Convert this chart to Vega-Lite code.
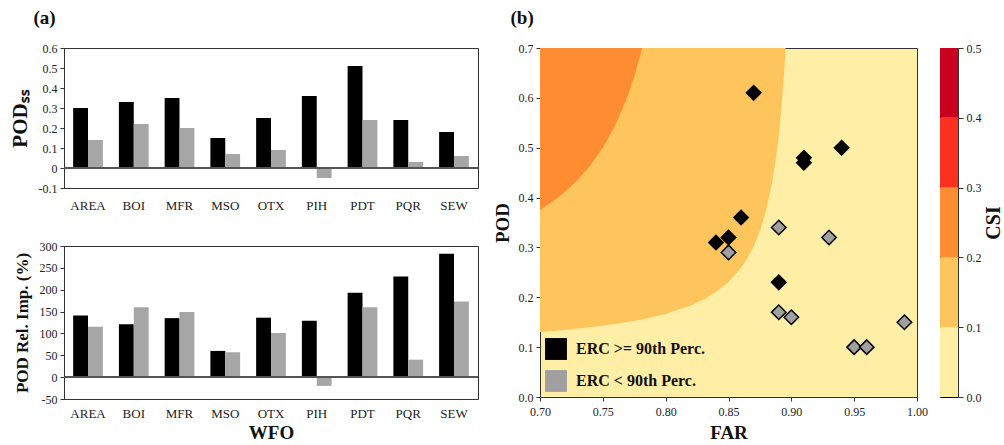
{
 "$schema": "https://vega.github.io/schema/vega-lite/v6.json",
 "background": "white",
 "padding": {"left": 8, "top": 8, "right": 0, "bottom": 0},
 "config": {
  "font": "Liberation Serif",
  "view": {"stroke": "#333333", "strokeWidth": 1},
  "axis": {"labelFont": "Liberation Serif", "titleFont": "Liberation Serif", "labelColor": "#222222", "titleColor": "#111111", "labelFontSize": 12, "grid": false, "domainColor": "#333333", "tickColor": "#333333", "titleFontWeight": "bold", "labelOverlap": false, "labelFlush": false},
  "axisQuantitative": {"labelOverlap": false},
  "axisY": {"labelOverlap": false},
  "locale": {"number": {"decimal": ".", "thousands": ",", "grouping": [3], "currency": ["$", ""], "minus": "-"}},
  "title": {"font": "Liberation Serif", "fontSize": 19, "fontWeight": "bold", "anchor": "start", "frame": "bounds", "color": "#111111"}
 },
 "datasets": {
  "ss": [
   {"wfo": "AREA", "erc": "ERC >= 90th Perc.", "value": 0.30}, {"wfo": "AREA", "erc": "ERC < 90th Perc.", "value": 0.14},
   {"wfo": "BOI", "erc": "ERC >= 90th Perc.", "value": 0.33}, {"wfo": "BOI", "erc": "ERC < 90th Perc.", "value": 0.22},
   {"wfo": "MFR", "erc": "ERC >= 90th Perc.", "value": 0.35}, {"wfo": "MFR", "erc": "ERC < 90th Perc.", "value": 0.20},
   {"wfo": "MSO", "erc": "ERC >= 90th Perc.", "value": 0.15}, {"wfo": "MSO", "erc": "ERC < 90th Perc.", "value": 0.07},
   {"wfo": "OTX", "erc": "ERC >= 90th Perc.", "value": 0.25}, {"wfo": "OTX", "erc": "ERC < 90th Perc.", "value": 0.09},
   {"wfo": "PIH", "erc": "ERC >= 90th Perc.", "value": 0.36}, {"wfo": "PIH", "erc": "ERC < 90th Perc.", "value": -0.05},
   {"wfo": "PDT", "erc": "ERC >= 90th Perc.", "value": 0.51}, {"wfo": "PDT", "erc": "ERC < 90th Perc.", "value": 0.24},
   {"wfo": "PQR", "erc": "ERC >= 90th Perc.", "value": 0.24}, {"wfo": "PQR", "erc": "ERC < 90th Perc.", "value": 0.03},
   {"wfo": "SEW", "erc": "ERC >= 90th Perc.", "value": 0.18}, {"wfo": "SEW", "erc": "ERC < 90th Perc.", "value": 0.06}
  ],
  "rel": [
   {"wfo": "AREA", "erc": "ERC >= 90th Perc.", "value": 141}, {"wfo": "AREA", "erc": "ERC < 90th Perc.", "value": 115},
   {"wfo": "BOI", "erc": "ERC >= 90th Perc.", "value": 121}, {"wfo": "BOI", "erc": "ERC < 90th Perc.", "value": 160},
   {"wfo": "MFR", "erc": "ERC >= 90th Perc.", "value": 135}, {"wfo": "MFR", "erc": "ERC < 90th Perc.", "value": 149},
   {"wfo": "MSO", "erc": "ERC >= 90th Perc.", "value": 60}, {"wfo": "MSO", "erc": "ERC < 90th Perc.", "value": 57},
   {"wfo": "OTX", "erc": "ERC >= 90th Perc.", "value": 136}, {"wfo": "OTX", "erc": "ERC < 90th Perc.", "value": 101},
   {"wfo": "PIH", "erc": "ERC >= 90th Perc.", "value": 129}, {"wfo": "PIH", "erc": "ERC < 90th Perc.", "value": -20},
   {"wfo": "PDT", "erc": "ERC >= 90th Perc.", "value": 193}, {"wfo": "PDT", "erc": "ERC < 90th Perc.", "value": 160},
   {"wfo": "PQR", "erc": "ERC >= 90th Perc.", "value": 230}, {"wfo": "PQR", "erc": "ERC < 90th Perc.", "value": 40},
   {"wfo": "SEW", "erc": "ERC >= 90th Perc.", "value": 282}, {"wfo": "SEW", "erc": "ERC < 90th Perc.", "value": 173}
  ],
  "pts": [
   {"far": 0.87, "pod": 0.61, "erc": "ERC >= 90th Perc."}, {"far": 0.91, "pod": 0.48, "erc": "ERC >= 90th Perc."},
   {"far": 0.91, "pod": 0.47, "erc": "ERC >= 90th Perc."}, {"far": 0.94, "pod": 0.50, "erc": "ERC >= 90th Perc."},
   {"far": 0.86, "pod": 0.36, "erc": "ERC >= 90th Perc."}, {"far": 0.85, "pod": 0.32, "erc": "ERC >= 90th Perc."},
   {"far": 0.84, "pod": 0.31, "erc": "ERC >= 90th Perc."}, {"far": 0.89, "pod": 0.23, "erc": "ERC >= 90th Perc."},
   {"far": 0.89, "pod": 0.34, "erc": "ERC < 90th Perc."}, {"far": 0.93, "pod": 0.32, "erc": "ERC < 90th Perc."},
   {"far": 0.85, "pod": 0.29, "erc": "ERC < 90th Perc."}, {"far": 0.89, "pod": 0.17, "erc": "ERC < 90th Perc."},
   {"far": 0.90, "pod": 0.16, "erc": "ERC < 90th Perc."}, {"far": 0.99, "pod": 0.15, "erc": "ERC < 90th Perc."},
   {"far": 0.95, "pod": 0.10, "erc": "ERC < 90th Perc."}, {"far": 0.96, "pod": 0.10, "erc": "ERC < 90th Perc."}
  ],
  "c1": [
   {"far": 0.70, "pod": 0.1304}, {"far": 0.72, "pod": 0.1346}, {"far": 0.74, "pod": 0.1398}, {"far": 0.76, "pod": 0.1463},
   {"far": 0.78, "pod": 0.1549}, {"far": 0.80, "pod": 0.1667}, {"far": 0.82, "pod": 0.1837}, {"far": 0.83, "pod": 0.1954},
   {"far": 0.84, "pod": 0.2105}, {"far": 0.85, "pod": 0.2308}, {"far": 0.86, "pod": 0.2593}, {"far": 0.865, "pod": 0.2784},
   {"far": 0.87, "pod": 0.3023}, {"far": 0.875, "pod": 0.3333}, {"far": 0.88, "pod": 0.375}, {"far": 0.885, "pod": 0.434},
   {"far": 0.888, "pod": 0.4828}, {"far": 0.89, "pod": 0.5238}, {"far": 0.892, "pod": 0.5745}, {"far": 0.894, "pod": 0.6386},
   {"far": 0.8955, "pod": 0.7}
  ],
  "c2": [
   {"far": 0.70, "pod": 0.375}, {"far": 0.71, "pod": 0.3919}, {"far": 0.72, "pod": 0.4118}, {"far": 0.73, "pod": 0.4355},
   {"far": 0.74, "pod": 0.4643}, {"far": 0.75, "pod": 0.5}, {"far": 0.76, "pod": 0.5455}, {"far": 0.77, "pod": 0.6053},
   {"far": 0.775, "pod": 0.6429}, {"far": 0.78, "pod": 0.6875}, {"far": 0.7812, "pod": 0.7}
  ],
  "bar": [
   {"lo": 0.0, "hi": 0.1, "level": "0.0-0.1"}, {"lo": 0.1, "hi": 0.2, "level": "0.1-0.2"},
   {"lo": 0.2, "hi": 0.3, "level": "0.2-0.3"}, {"lo": 0.3, "hi": 0.4, "level": "0.3-0.4"},
   {"lo": 0.4, "hi": 0.5, "level": "0.4-0.5"}
  ]
 },
 "spacing": 12,
 "resolve": {"scale": {"color": "independent", "fill": "independent", "x": "independent", "y": "independent"}, "legend": {"fill": "independent", "color": "independent"}},
 "hconcat": [
  {
   "title": {"text": "(a)", "dx": 25, "offset": 14},
   "spacing": 26,
   "vconcat": [
    {
     "width": 414, "height": 140,
     "data": {"name": "ss"},
     "layer": [
      {
       "mark": {"type": "bar"},
       "encoding": {
        "x": {"field": "wfo", "type": "nominal", "sort": ["AREA", "BOI", "MFR", "MSO", "OTX", "PIH", "PDT", "PQR", "SEW"], "scale": {"paddingInner": 0.35, "paddingOuter": 0.2}, "axis": {"labelAngle": 0, "ticks": false, "domain": false, "labelPadding": 11, "labelFontSize": 13, "title": null}},
        "xOffset": {"field": "erc", "type": "nominal", "sort": ["ERC >= 90th Perc.", "ERC < 90th Perc."]},
        "y": {"field": "value", "type": "quantitative", "scale": {"domain": [-0.1, 0.6], "nice": false}, "axis": {"values": [-0.1, 0, 0.1, 0.2, 0.3, 0.4, 0.5, 0.6], "format": "~g", "labelOverlap": false, "title": "PODₛₛ", "titleFontSize": 21, "tickSize": 4, "labelPadding": 3, "titlePadding": 8}},
        "color": {"field": "erc", "type": "nominal", "scale": {"domain": ["ERC >= 90th Perc.", "ERC < 90th Perc."], "range": ["#000000", "#A6A6A6"]}, "legend": null}
       }
      },
      {"mark": {"type": "rule", "color": "#555555", "strokeWidth": 1.2}, "encoding": {"y": {"datum": 0, "type": "quantitative", "axis": {"values": [-0.1, 0, 0.1, 0.2, 0.3, 0.4, 0.5, 0.6], "format": "~g", "labelOverlap": false, "title": "PODₛₛ", "titleFontSize": 21, "tickSize": 4, "labelPadding": 3, "titlePadding": 8}}}}
     ]
    },
    {
     "width": 414, "height": 153,
     "data": {"name": "rel"},
     "layer": [
      {
       "mark": {"type": "bar"},
       "encoding": {
        "x": {"field": "wfo", "type": "nominal", "sort": ["AREA", "BOI", "MFR", "MSO", "OTX", "PIH", "PDT", "PQR", "SEW"], "scale": {"paddingInner": 0.35, "paddingOuter": 0.2}, "axis": {"labelAngle": 0, "ticks": false, "domain": false, "labelPadding": 8, "labelFontSize": 13, "title": "WFO", "titleFontSize": 19, "titlePadding": 3}},
        "xOffset": {"field": "erc", "type": "nominal", "sort": ["ERC >= 90th Perc.", "ERC < 90th Perc."]},
        "y": {"field": "value", "type": "quantitative", "scale": {"domain": [-50, 300], "nice": false}, "axis": {"values": [-50, 0, 50, 100, 150, 200, 250, 300], "format": "d", "labelOverlap": false, "title": "POD Rel. Imp. (%)", "titleFontSize": 17, "tickSize": 4, "labelPadding": 3, "titlePadding": 8}},
        "color": {"field": "erc", "type": "nominal", "scale": {"domain": ["ERC >= 90th Perc.", "ERC < 90th Perc."], "range": ["#000000", "#A6A6A6"]}, "legend": null}
       }
      },
      {"mark": {"type": "rule", "color": "#555555", "strokeWidth": 1.2}, "encoding": {"y": {"datum": 0, "type": "quantitative", "axis": {"values": [-50, 0, 50, 100, 150, 200, 250, 300], "format": "d", "labelOverlap": false, "title": "POD Rel. Imp. (%)", "titleFontSize": 17, "tickSize": 4, "labelPadding": 3, "titlePadding": 8}}}}
     ]
    }
   ]
  },
  {
   "title": {"text": "(b)", "dx": 18, "offset": 14},
   "spacing": 11,
   "resolve": {"scale": {"color": "independent", "fill": "independent", "x": "independent", "y": "independent"}, "legend": {"fill": "independent", "color": "independent"}},
   "hconcat": [
    {
     "width": 377, "height": 349,
     "view": {"fill": "#FFEEA6", "stroke": "#333333"},
     "layer": [
      {
       "data": {"name": "c1"},
       "mark": {"type": "area", "color": "#FEC55C", "clip": true, "opacity": 1},
       "encoding": {
        "x": {"field": "far", "type": "quantitative", "scale": {"domain": [0.7, 1.0], "nice": false}, "axis": {"values": [0.7, 0.75, 0.8, 0.85, 0.9, 0.95, 1.0], "format": ".2f", "title": "FAR", "titleFontSize": 19, "tickSize": 4, "labelPadding": 5, "titlePadding": 6}},
        "y": {"field": "pod", "type": "quantitative", "scale": {"domain": [0, 0.7], "nice": false}, "axis": {"values": [0, 0.1, 0.2, 0.3, 0.4, 0.5, 0.6, 0.7], "format": ".1f", "title": "POD", "titleFontSize": 19, "tickSize": 4, "labelPadding": 3, "titlePadding": 6}},
        "y2": {"datum": 0.7}
       }
      },
      {
       "data": {"name": "c2"},
       "mark": {"type": "area", "color": "#FD8C33", "clip": true, "opacity": 1},
       "encoding": {
        "x": {"field": "far", "type": "quantitative"},
        "y": {"field": "pod", "type": "quantitative"},
        "y2": {"datum": 0.7}
       }
      },
      {
       "data": {"name": "pts"},
       "mark": {"type": "point", "shape": "diamond", "filled": true, "size": 210, "stroke": "#000000", "strokeWidth": 1.5, "opacity": 1},
       "encoding": {
        "x": {"field": "far", "type": "quantitative"},
        "y": {"field": "pod", "type": "quantitative"},
        "fill": {"field": "erc", "type": "nominal", "scale": {"domain": ["ERC >= 90th Perc.", "ERC < 90th Perc."], "range": ["#000000", "#A0A0A0"]},
         "legend": {"title": null, "orient": "bottom-left", "offset": 5, "padding": 0, "labelFont": "Liberation Serif", "labelFontSize": 16, "labelFontWeight": "bold", "labelColor": "#111111", "symbolType": "square", "symbolSize": 480, "symbolStrokeWidth": 0, "rowPadding": 10, "labelOffset": 9,
          "encode": {"symbols": {"shape": {"value": "square"}, "strokeWidth": {"value": 0}}}}}
       }
      }
     ]
    },
    {
     "width": 18, "height": 349,
     "view": {"stroke": "#000000"},
     "data": {"name": "bar"},
     "mark": {"type": "rect"},
     "encoding": {
      "x": {"datum": 0, "type": "quantitative", "scale": {"domain": [0, 1]}, "axis": null},
      "x2": {"datum": 1},
      "y": {"field": "lo", "type": "quantitative", "scale": {"domain": [0, 0.5], "nice": false}, "axis": {"orient": "right", "values": [0, 0.1, 0.2, 0.3, 0.4, 0.5], "format": ".1f", "title": "CSI", "titleAngle": 270, "titleFontSize": 20, "tickSize": 5, "labelPadding": 3, "titlePadding": 22}},
      "y2": {"field": "hi"},
      "color": {"field": "level", "type": "nominal", "scale": {"domain": ["0.0-0.1", "0.1-0.2", "0.2-0.3", "0.3-0.4", "0.4-0.5"], "range": ["#FFEEA6", "#FEC55C", "#FD8C33", "#FC301F", "#C8001E"]}, "legend": null}
     }
    }
   ]
  }
 ]
}
